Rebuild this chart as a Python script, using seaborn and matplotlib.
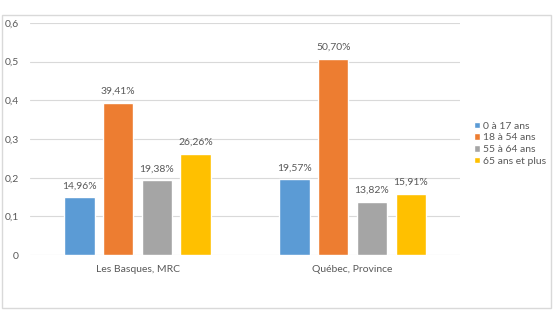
import matplotlib
matplotlib.use("Agg")
import matplotlib.pyplot as plt
import seaborn as sns
import pandas as pd
from matplotlib.patches import Rectangle

regions = ["Les Basques, MRC", "Québec, Province"]
groups = ["0 à 17 ans", "18 à 54 ans", "55 à 64 ans", "65 ans et plus"]
values = {
    "0 à 17 ans": [0.1496, 0.1957],
    "18 à 54 ans": [0.3941, 0.5070],
    "55 à 64 ans": [0.1938, 0.1382],
    "65 ans et plus": [0.2626, 0.1591],
}
colors = ["#5B9BD5", "#ED7D31", "#A5A5A5", "#FFC000"]
yticks = [0, 0.1, 0.2, 0.3, 0.4, 0.5, 0.6]
ytick_labels = ["0", "0,1", "0,2", "0,3", "0,4", "0,5", "0,6"]

rows = []
for g in groups:
    for r, v in zip(regions, values[g]):
        rows.append({"region": r, "group": g, "value": v})
df = pd.DataFrame(rows)

sns.set_style("white")
plt.rcParams["font.family"] = ["Lato", "DejaVu Sans"]
txt = "#595959"

fig = plt.figure(figsize=(5.55, 3.15), dpi=100)
ax = fig.add_axes([0.054, 0.19, 0.775, 0.737])

sns.barplot(data=df, x="region", y="value", hue="group", hue_order=groups,
            order=regions, palette=colors, width=0.72, gap=0.22, ax=ax,
            saturation=1, errorbar=None, legend=True)

for cont, g in zip(ax.containers, groups):
    labels = [f"{v*100:.2f}%".replace(".", ",") for v in values[g]]
    ax.bar_label(cont, labels=labels, padding=5, fontsize=7.5, color=txt)

ax.set_ylim(0, 0.6)
ax.set_xlim(-0.5, 1.5)
ax.set_yticks(yticks)
ax.set_yticklabels(ytick_labels)
ax.yaxis.grid(True, color="#D9D9D9", linewidth=0.8)
ax.set_axisbelow(True)
for s in ax.spines.values():
    s.set_visible(False)
ax.tick_params(axis="both", length=0, labelsize=7.5, colors=txt)
ax.tick_params(axis="y", pad=8)
ax.tick_params(axis="x", pad=7)
ax.set_xlabel("")
ax.set_ylabel("")

leg = ax.legend(loc="center left", bbox_to_anchor=(1.01, 0.48), frameon=False,
                fontsize=7.5, handlelength=0.6, handleheight=0.6, handletextpad=0.3,
                labelspacing=0.25)
for t in leg.get_texts():
    t.set_color(txt)

fig.patches.append(Rectangle((0.004, 0.022), 0.988, 0.93, transform=fig.transFigure,
                             fill=False, edgecolor="#D9D9D9", linewidth=1))

fig.savefig("out.png", dpi=100)
